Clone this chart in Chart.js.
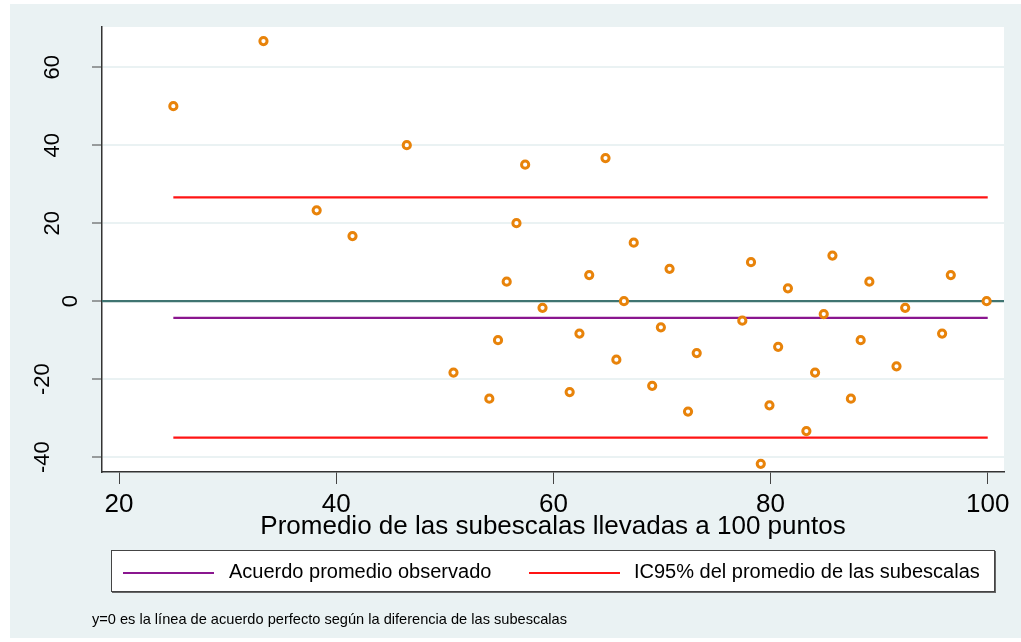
<!DOCTYPE html>
<html>
<head>
<meta charset="utf-8">
<script src="https://cdn.jsdelivr.net/npm/chart.js@4.4.1/dist/chart.umd.min.js"></script>
<style>
  body { margin: 0; background: #fff; }
  #wrap { position: relative; width: 1021px; height: 642px; font-family: "Liberation Sans", Arial, sans-serif; }
  #panel { position: absolute; left: 10px; top: 4px; width: 1011px; height: 634px; background: #eaf2f3; }
  #chart { position: absolute; left: 0; top: 0; }
  #legend { position: absolute; left: 111px; top: 550px; width: 882px; height: 40px; background: #fff;
            border: 1px solid #444; box-shadow: 1px 1px 0 #666; }
  .sw { position: absolute; height: 2px; top: 21px; }
  .lt { position: absolute; top: 8px; font-size: 20px; color: #000; white-space: nowrap; line-height: 24px; }
  #note { position: absolute; left: 92px; top: 611px; font-size: 14.6px; color: #000; white-space: nowrap; }
</style>
</head>
<body>
<div id="wrap">
  <div id="panel"></div>
  <canvas id="chart" width="1021" height="642"></canvas>
  <div id="legend"></div>
  <div id="note">y=0 es la línea de acuerdo perfecto según la diferencia de las subescalas</div>
</div>
<script>
// promedio (x) y diferencia (y) de las subescalas
const promedio = [25, 33.3, 38.2, 41.5, 46.5, 50.8, 54.1, 54.9, 55.7, 56.6, 57.4, 59.0, 61.5, 62.4,
    63.3, 64.8, 65.8, 66.5, 67.4, 69.1, 69.9, 70.7, 72.4, 73.2, 77.4, 78.2, 79.1, 79.9, 80.7, 81.6,
    83.3, 84.1, 84.9, 85.7, 87.4, 88.3, 89.1, 91.6, 92.4, 95.8, 96.6, 99.9];
const diferencia = [50, 66.7, 23.3, 16.7, 40, -18.3, -25, -10, 5, 20, 35, -1.7, -23.3, -8.3,
    6.7, 36.7, -15, 0, 15, -21.7, -6.7, 8.3, -28.3, -13.3, -5, 10, -41.7, -26.7, -11.7, 3.3,
    -33.3, -18.3, -3.3, 11.7, -25, -10, 5, -16.7, -1.7, -8.3, 6.7, 0];

const mediaDif = -4.3;
const limiteSup = 26.6;
const limiteInf = -35.0;
const rangoX = [25, 100];

const xTicks = [20, 40, 60, 80, 100];
const yTicks = [-40, -20, 0, 20, 40, 60];
const xMin = 18.43, xMax = 101.5;
const yMin = -43.8, yMax = 70.3;

const legendLabels = ["Acuerdo promedio observado", "IC95% del promedio de las subescalas"];
const xTitle = "Promedio de las subescalas llevadas a 100 puntos";

const colOrange = "#e8830a";
const colPurple = "#8a168f";
const colRed = "#ff1414";
const colTeal = "#3f7471";

// leyenda en HTML
const legend = document.getElementById("legend");
legend.innerHTML = `
  <div class="sw" style="left:11px;width:91px;background:${colPurple}"></div>
  <div class="lt" style="left:117px">${legendLabels[0]}</div>
  <div class="sw" style="left:417px;width:91px;background:${colRed}"></div>
  <div class="lt" style="left:522px">${legendLabels[1]}</div>`;

const puntos = promedio.map((x, i) => ({ x: x, y: diferencia[i] }));
const hLine = (y, x0, x1) => [{ x: x0, y: y }, { x: x1, y: y }];

// fondo blanco del área del gráfico + etiquetas y rotadas
const plotBg = {
    id: "plotBg",
    beforeDraw(chart) {
        const a = chart.chartArea;
        const ctx = chart.ctx;
        ctx.save();
        ctx.fillStyle = "#fff";
        ctx.fillRect(a.left, a.top, a.right - a.left, a.bottom - a.top);
        ctx.restore();
    },
    afterDraw(chart) {
        const ys = chart.scales.y;
        const ctx = chart.ctx;
        ctx.save();
        ctx.font = "22px 'Liberation Sans', Arial, sans-serif";
        ctx.fillStyle = "#000";
        ctx.textAlign = "center";
        ctx.textBaseline = "middle";
        const w0 = ctx.measureText("0").width;
        ys.ticks.forEach(t => {
            const txt = String(t.value);
            const py = ys.getPixelForValue(t.value);
            const px = 71 - 1.45 * (ctx.measureText(txt).width - w0);
            ctx.save();
            ctx.translate(px, py);
            ctx.rotate(-Math.PI / 2);
            ctx.fillText(txt, 0, 0);
            ctx.restore();
        });
        ctx.restore();
    }
};

const ctx = document.getElementById("chart").getContext("2d");
new Chart(ctx, {
    type: "scatter",
    data: {
        datasets: [
            {
                label: "diferencia",
                data: puntos,
                pointStyle: "circle",
                pointRadius: 3.6,
                pointBorderWidth: 3,
                borderColor: colOrange,
                backgroundColor: "#fff",
                order: 0
            },
            {
                label: "cero",
                data: hLine(0, xMin, xMax),
                type: "line",
                borderColor: colTeal,
                borderWidth: 2.2,
                pointRadius: 0,
                order: 3
            },
            {
                label: legendLabels[0],
                data: hLine(mediaDif, rangoX[0], rangoX[1]),
                type: "line",
                borderColor: colPurple,
                borderWidth: 2.2,
                pointRadius: 0,
                order: 2
            },
            {
                label: legendLabels[1],
                data: hLine(limiteSup, rangoX[0], rangoX[1]),
                type: "line",
                borderColor: colRed,
                borderWidth: 2.2,
                pointRadius: 0,
                order: 2
            },
            {
                label: legendLabels[1] + " inf",
                data: hLine(limiteInf, rangoX[0], rangoX[1]),
                type: "line",
                borderColor: colRed,
                borderWidth: 2.2,
                pointRadius: 0,
                order: 2
            }
        ]
    },
    options: {
        responsive: false,
        animation: false,
        layout: { padding: { left: 0, top: 27, right: 17, bottom: 100 } },
        plugins: { legend: { display: false }, tooltip: { enabled: false } },
        scales: {
            x: {
                type: "linear",
                position: "bottom",
                min: xMin,
                max: xMax,
                afterBuildTicks: s => { s.ticks = xTicks.map(v => ({ value: v })); },
                afterFit: s => { s.height = 70; },
                ticks: {
                    color: "#000",
                    padding: 5,
                    maxRotation: 0,
                    font: { family: "'Liberation Sans', Arial, sans-serif", size: 26 }
                },
                grid: { drawOnChartArea: false, tickLength: 12, tickColor: "#444", tickWidth: 1 },
                border: { color: "#333", width: 1.5 },
                title: {
                    display: true,
                    text: xTitle,
                    color: "#000",
                    padding: 0,
                    font: { family: "'Liberation Sans', Arial, sans-serif", size: 26 }
                }
            },
            y: {
                type: "linear",
                min: yMin,
                max: yMax,
                afterBuildTicks: s => { s.ticks = yTicks.map(v => ({ value: v })); },
                afterFit: s => { s.width = 102; },
                ticks: { display: false },
                grid: { color: "#eaf2f3", lineWidth: 2, tickLength: 10, tickColor: "#444", tickWidth: 1 },
                border: { color: "#333", width: 1.5 }
            }
        }
    },
    plugins: [plotBg]
});
</script>
</body>
</html>
